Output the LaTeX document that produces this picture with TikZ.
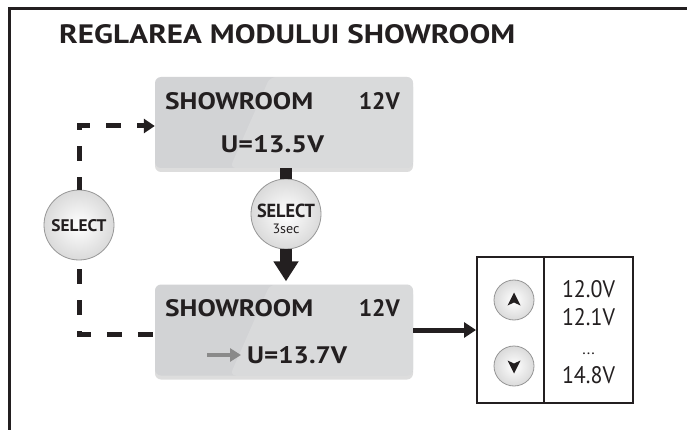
\documentclass[tikz,border=0pt]{standalone}
\usepackage{fontspec}
\setmainfont{PT Sans}
\usetikzlibrary{arrows.meta,shadows,calc}
\definecolor{ink}{RGB}{35,31,32}
\definecolor{lcd}{RGB}{210,211,213}
\definecolor{btnedge}{RGB}{150,150,150}
\definecolor{btnfill}{RGB}{218,218,218}
\definecolor{grayarrow}{RGB}{138,138,138}
\newcommand{\fitto}[3]{\resizebox{#1pt}{#2pt}{#3}}
\tikzset{
  lcdbox/.style={rounded corners=6pt, minimum width=258pt, minimum height=91pt,
    inner sep=0pt, fill=lcd,
    drop shadow={shadow xshift=0pt, shadow yshift=-4pt, opacity=0.22, fill=black!60},
    path picture={\fill[white,opacity=0.16]
      ($(path picture bounding box.north west)+(115,0)$) --
      (path picture bounding box.north east) --
      (path picture bounding box.south east) --
      ($(path picture bounding box.south west)+(75,0)$) -- cycle;}},
  bigbtn/.style={circle, minimum size=70pt, inner sep=0pt, draw=btnedge, line width=0.8pt,
    inner color=white, outer color=btnfill},
  smallbtn/.style={circle, minimum size=40pt, inner sep=0pt, draw=btnedge, line width=0.8pt,
    inner color=white, outer color=btnfill},
  lcdtxt/.style={inner sep=0pt, text=ink, font=\bfseries},
  listtxt/.style={inner sep=0pt, text=ink, anchor=base},
  dashline/.style={ink, line width=5pt, dash pattern=on 15pt off 16pt},
  stem/.style={ink, line width=12pt},
}
\begin{document}
\begin{tikzpicture}[x=1pt,y=-1pt]
\useasboundingbox (0,0) rectangle (687,430);
\fill[white] (0,0) rectangle (687,430);
% frame
\draw[ink, line width=3pt] (9,430) -- (9,9) -- (687,9);
% title
\node[anchor=base west, inner sep=0pt, text=ink, font=\bfseries] (title) at (59,43.5)
  {\fitto{456}{19}{REGLAREA MODULUI SHOWROOM}};
% lcd boxes
\node[lcdbox] (topbox) at (284,122.5) {};
\node[lcdbox] (botbox) at (284,330) {};
% texts top
\node[lcdtxt, anchor=base west] (t1) at (165,110) {\fitto{148}{17}{SHOWROOM}};
\node[lcdtxt, anchor=base east] (t2) at (400,110) {\fitto{41}{17}{12V}};
\node[lcdtxt, anchor=base] (t3) at (272.5,153) {\fitto{103}{17}{U=13.5V}};
% texts bottom
\node[lcdtxt, anchor=base west] (b1) at (165,316) {\fitto{148}{17}{SHOWROOM}};
\node[lcdtxt, anchor=base east] (b2) at (400,316) {\fitto{41}{17}{12V}};
\node[lcdtxt, anchor=base west] (b3) at (247,363) {\fitto{100}{17}{U=13.7V}};
\coordinate (ga1) at (207,355);
\coordinate (ga2) at (241,355);
\draw[grayarrow, line width=4.5pt, -{Triangle[length=11pt,width=13pt]}] (ga1) -- (ga2);
% buttons
\node[bigbtn] (sel1) at (79,225) {};
\node[inner sep=0pt, anchor=base, text=ink, font=\bfseries] (sel1t) at (79,232) {\fitto{55}{12}{SELECT}};
\node[bigbtn] (sel2) at (286,214) {};
\node[inner sep=0pt, anchor=base, text=ink, font=\bfseries] (sel2t) at (286,218) {\fitto{58}{13.5}{SELECT}};
\node[inner sep=0pt, anchor=base, text=ink] (sel2s) at (286,233.5) {\fitto{27}{9.5}{3sec}};
% middle connector
\draw[stem] (sel2.north |- topbox.south) -- (sel2.north);
\draw[stem, -{Triangle[length=20pt,width=24pt]}] (sel2.south) -- ($(sel2.south |- botbox.north)+(0,-3)$);
% dashed connectors
\coordinate (topin) at ($(topbox.west)+(0,3.5)$);
\coordinate (botin) at ($(botbox.west)+(0,4.5)$);
\draw[dashline, dash phase=2pt, -{Triangle[length=11pt,width=14pt]}] (sel1.north) |- (topin);
\draw[dashline, dash phase=22pt] (sel1.south) |- (botin);
% list box
\node[draw=ink, line width=2pt, minimum width=156pt, minimum height=146pt, inner sep=0pt] (list) at (555,330) {};
\draw[ink, line width=1.5pt] (list.north -| 544,0) -- (list.south -| 544,0);
\draw[ink, line width=5pt, -{Triangle[length=12pt,width=15pt]}] (botbox.east) -- (list.west);
\node[smallbtn] (up) at (514,300) {};
\node[smallbtn] (down) at (514,366) {};
\fill[ink, shift={(up.center)}] (0,-7.5) -- (6.5,5.5) -- (0,2.5) -- (-6.5,5.5) -- cycle;
\fill[ink, shift={(down.center)}] (0,7.5) -- (6.5,-5.5) -- (0,-2.5) -- (-6.5,-5.5) -- cycle;
\node[listtxt] (v1) at (588.5,297) {\fitto{53}{17}{12.0V}};
\node[listtxt] (v2) at (588.5,325) {\fitto{53}{17}{12.1V}};
\node[listtxt, font=\fontsize{16}{16}\selectfont] (v3) at (588.5,354) {...};
\node[listtxt] (v4) at (588.5,383) {\fitto{53}{17}{14.8V}};
\end{tikzpicture}
\end{document}
